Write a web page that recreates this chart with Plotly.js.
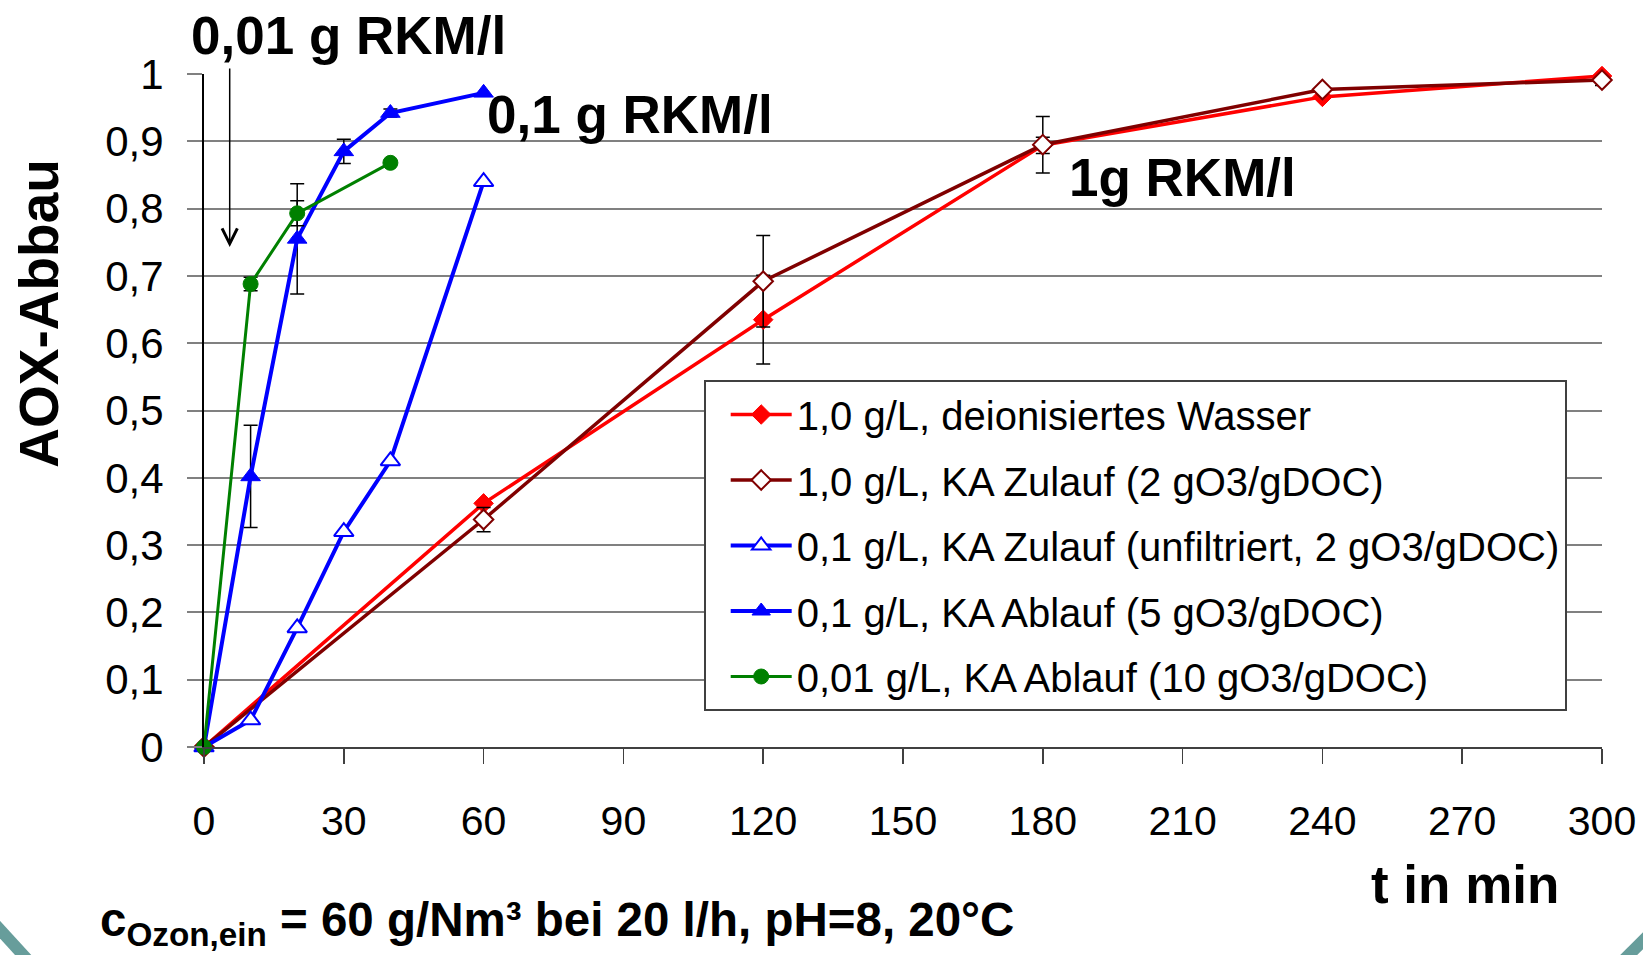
<!DOCTYPE html>
<html>
<head>
<meta charset="utf-8">
<script src="https://cdn.plot.ly/plotly-3.0.1.min.js"></script>
<style>
  html, body { margin: 0; padding: 0; background: #ffffff; }
  #chart { width: 1643px; height: 955px; }
</style>
</head>
<body>
<div id="chart"></div>
<script>
// ---- data ----
const seriesNames = [
  "1,0 g/L, deionisiertes Wasser",
  "1,0 g/L, KA Zulauf (2 gO3/gDOC)",
  "0,1 g/L, KA Zulauf (unfiltriert, 2 gO3/gDOC)",
  "0,1 g/L, KA Ablauf (5 gO3/gDOC)",
  "0,01 g/L, KA Ablauf (10 gO3/gDOC)"
];
const tLong = [0, 60, 120, 180, 240, 300];
const tShort = [0, 10, 20, 30, 40, 60];
const tGreen = [0, 10, 20, 40];

const deionisiert = [0, 0.362, 0.635, 0.894, 0.966, 0.997];
const deionisiertErr = [null, null, 0.066, 0.012, null, 0.014];

const zulauf1 = [0, 0.338, 0.692, 0.895, 0.977, 0.991];
const zulauf1Err = [null, 0.018, 0.068, 0.042, null, null];

const zulauf01 = [0, 0.04, 0.177, 0.32, 0.425, 0.84];

const ablauf01 = [0, 0.402, 0.755, 0.885, 0.942, 0.972];
const ablauf01Err = [null, 0.076, 0.082, 0.018, 0.006, null];

const ablauf001 = [0, 0.688, 0.793, 0.868];
const ablauf001Err = [null, 0.01, 0.0185, null];

const xTickVals = [0, 30, 60, 90, 120, 150, 180, 210, 240, 270, 300];

// ---- helpers ----
const FONT = "'Liberation Sans', Arial, sans-serif";
const errArr = a => a.map(v => (v === null ? NaN : v));
const L = 204.3, R = 1602.3, T = 74, B = 747;
const px2x = p => (p - L) / (R - L);
const px2y = p => (B - p) / (B - T);
const errStyle = arr => ({type: 'data', array: errArr(arr), visible: true,
  color: '#000000', thickness: 1.5, width: 7});

const traces = [
  {x: tLong, y: deionisiert, name: seriesNames[0], legendgroup: 'g1',
   mode: 'lines+markers', line: {color: '#FF0000', width: 3.5},
   marker: {symbol: 'diamond', size: 15, color: '#FF0000', line: {color: '#FF0000', width: 1}},
   error_y: errStyle(deionisiertErr)},
  {x: tLong, y: zulauf1, name: seriesNames[1], legendgroup: 'g2',
   mode: 'lines+markers', line: {color: '#800000', width: 3.5},
   marker: {symbol: 'diamond', size: 15, color: '#FFFFFF', line: {color: '#800000', width: 2}},
   error_y: errStyle(zulauf1Err)},
  {x: tShort, y: zulauf01, name: seriesNames[2], legendgroup: 'g3',
   mode: 'lines+markers', line: {color: '#0000FF', width: 4},
   marker: {symbol: 'triangle-up', size: 17, color: '#FFFFFF', line: {color: '#0000FF', width: 2}}},
  {x: tShort, y: ablauf01, name: seriesNames[3], legendgroup: 'g4',
   mode: 'lines+markers', line: {color: '#0000FF', width: 4},
   marker: {symbol: 'triangle-up', size: 17, color: '#0000FF', line: {color: '#0000FF', width: 1}},
   error_y: errStyle(ablauf01Err)},
  {x: tGreen, y: ablauf001, name: seriesNames[4], legendgroup: 'g5',
   mode: 'lines+markers', line: {color: '#008000', width: 3},
   marker: {symbol: 'circle', size: 15, color: '#008000', line: {color: '#008000', width: 1}},
   error_y: errStyle(ablauf001Err)}
];
traces.forEach(t => { t.cliponaxis = false; });

const bold = (size) => ({family: FONT, size: size, color: '#000000', weight: 'bold'});

const layout = {
  width: 1643, height: 955,
  margin: {l: L, r: 1643 - R, t: T, b: 955 - B, pad: 0},
  paper_bgcolor: '#FFFFFF', plot_bgcolor: '#FFFFFF',
  separators: ',.',
  font: {family: FONT, color: '#000000'},
  showlegend: true,
  xaxis: {
    range: [0, 300], tickmode: 'array', tickvals: xTickVals,
    ticks: 'outside', ticklen: 15, tickwidth: 1.5, tickcolor: '#404040',
    showline: true, linecolor: '#404040', linewidth: 2,
    showgrid: false, zeroline: false,
    tickfont: {family: FONT, size: 41, color: '#000000'},
    ticklabelstandoff: 22
  },
  xaxis2: {
    overlaying: 'x', anchor: 'y', range: [0, 300], dtick: 10, tick0: 0,
    ticks: 'inside', ticklen: 13, tickwidth: 1.5, tickcolor: '#404040',
    showticklabels: false, showgrid: false, zeroline: false, showline: false
  },
  yaxis: {
    range: [0, 1], dtick: 0.1, tick0: 0,
    ticks: 'outside', ticklen: 15, tickwidth: 2, tickcolor: '#808080',
    showline: true, linecolor: '#000000', linewidth: 2,
    showgrid: true, gridcolor: '#808080', gridwidth: 2, zeroline: false,
    tickfont: {family: FONT, size: 42, color: '#000000'},
    ticklabelstandoff: 15
  },
  yaxis2: {
    overlaying: 'y', side: 'right', anchor: 'x', range: [0, 1],
    showline: true, linecolor: '#808080', linewidth: 2,
    showticklabels: false, ticks: '', showgrid: false, zeroline: false
  },
  legend: {
    x: px2x(704), y: px2y(380), xanchor: 'left', yanchor: 'top',
    bgcolor: '#FFFFFF', bordercolor: '#404040', borderwidth: 2,
    font: {family: FONT, size: 40, color: '#000000'},
    tracegroupgap: 10.5, itemwidth: 61, indentation: 20, traceorder: 'grouped'
  },
  annotations: [
    {xref: 'paper', yref: 'paper', x: px2x(189), y: px2y(36), xanchor: 'left', yanchor: 'middle',
     text: '0,01 g RKM/l', showarrow: false, font: bold(53)},
    {xref: 'paper', yref: 'paper', x: px2x(485), y: px2y(114.5), xanchor: 'left', yanchor: 'middle',
     text: '0,1 g RKM/l', showarrow: false, font: bold(53)},
    {xref: 'paper', yref: 'paper', x: px2x(1067), y: px2y(177.5), xanchor: 'left', yanchor: 'middle',
     text: '1g RKM/l', showarrow: false, font: bold(53)},
    {xref: 'paper', yref: 'paper', x: px2x(1369), y: px2y(884.5), xanchor: 'left', yanchor: 'middle',
     text: 't in min', showarrow: false, font: bold(53)},
    {xref: 'paper', yref: 'paper', x: px2x(39), y: px2y(313), xanchor: 'center', yanchor: 'middle',
     text: 'AOX-Abbau', textangle: -90, showarrow: false, font: bold(55)},
    {xref: 'paper', yref: 'paper', x: px2x(98), y: px2y(923), xanchor: 'left', yanchor: 'middle',
     text: 'c<sub>Ozon,ein</sub> = 60 g/Nm³ bei 20 l/h, pH=8, 20°C', showarrow: false, font: bold(47.5)},
    {xref: 'paper', yref: 'paper', x: px2x(230), y: px2y(247), text: '',
     showarrow: true, ax: 0, ay: -180, arrowhead: 5, arrowsize: 2, arrowwidth: 1.5,
     arrowcolor: '#000000'}
  ],
  shapes: [
    {type: 'line', xref: 'paper', yref: 'paper', x0: px2x(-4), y0: px2y(925), x1: px2x(28), y1: px2y(960),
     line: {color: '#679D9B', width: 12}, layer: 'below'},
    {type: 'line', xref: 'paper', yref: 'paper', x0: px2x(1624), y0: px2y(960), x1: px2x(1648), y1: px2y(936),
     line: {color: '#679D9B', width: 12}, layer: 'below'}
  ]
};

Plotly.newPlot('chart', traces, layout, {displayModeBar: false, staticPlot: true});
</script>
</body>
</html>
